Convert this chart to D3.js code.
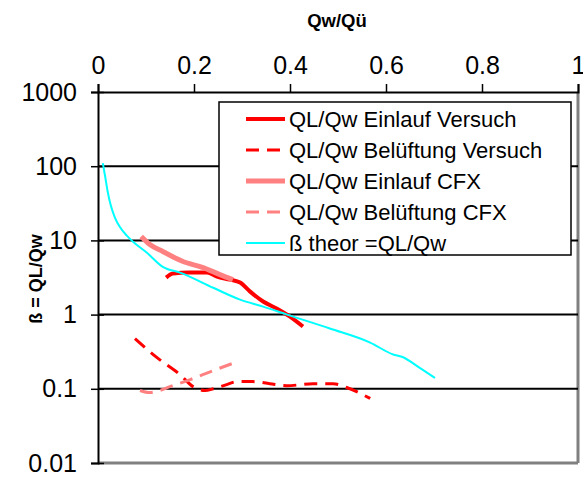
<!DOCTYPE html>
<html lang="de">
<head>
    <meta charset="UTF-8">
    <title>ß = QL/Qw</title>
    <script src="https://d3js.org/d3.v7.min.js"></script>
    <style>
        body { margin: 0; background: #fff; }
        svg { display: block; font-family: Arial, "Liberation Sans", Helvetica, sans-serif; }
    </style>
</head>
<body>
    <svg></svg>

    <script>
const width = 583, height = 477;
const font = 'Arial, "Liberation Sans", Helvetica, sans-serif';

// tick labels
const xTicks = [0, 0.2, 0.4, 0.6, 0.8, 1];
const yTicks = [0.01, 0.1, 1, 10, 100, 1000];

// series, [Qw/Qü, ß]
const einlaufVersuch = [[0.142, 3.15], [0.156, 3.57], [0.19, 3.68], [0.227, 3.68], [0.248, 3.25],
    [0.275, 2.96], [0.296, 2.7], [0.317, 2.04], [0.344, 1.5], [0.373, 1.2], [0.4, 0.94], [0.427, 0.69]];
const belueftungVersuch = [[0.077, 0.475], [0.123, 0.263], [0.171, 0.155], [0.198, 0.107], [0.223, 0.095],
    [0.24, 0.1], [0.268, 0.114], [0.29, 0.125], [0.323, 0.125], [0.358, 0.117], [0.393, 0.11],
    [0.448, 0.117], [0.49, 0.117], [0.518, 0.104], [0.567, 0.074]];
const einlaufCFX = [[0.09, 11.3], [0.108, 8.8], [0.135, 7.1], [0.177, 5.2], [0.219, 4.3], [0.254, 3.46], [0.281, 2.96]];
const belueftungCFX = [[0.0875, 0.095], [0.108, 0.089], [0.129, 0.095], [0.15, 0.107], [0.192, 0.133], [0.24, 0.176], [0.279, 0.218]];
const betaTheor = [[0.01, 110], [0.015, 72], [0.02, 46], [0.027, 29], [0.035, 20.5], [0.046, 15], [0.06, 11.6],
    [0.073, 9.6], [0.102, 6.8], [0.135, 4.4], [0.171, 3.68], [0.24, 2.3], [0.296, 1.59], [0.344, 1.28],
    [0.394, 1.0], [0.483, 0.65], [0.567, 0.42], [0.615, 0.29], [0.633, 0.27], [0.671, 0.19], [0.702, 0.14]];

const series = [
    { name: "QL/Qw Einlauf Versuch", data: einlaufVersuch, color: "#ff0000", w: 4, dash: null },
    { name: "QL/Qw Belüftung Versuch", data: belueftungVersuch, color: "#ff0000", w: 3, dash: "13,8" },
    { name: "QL/Qw Einlauf CFX", data: einlaufCFX, color: "#ff8080", w: 5, dash: null },
    { name: "QL/Qw Belüftung CFX", data: belueftungCFX, color: "#ff8080", w: 3, dash: "13,8" },
    { name: "ß theor =QL/Qw", data: betaTheor, color: "#00ffff", w: 2, dash: null }
];

const m = { left: 98, right: 578, top: 92, bottom: 463 };

const svg = d3.select("svg")
    .attr("width", width)
    .attr("height", height);

const x = d3.scaleLinear().domain([0, 1]).range([m.left, m.right]);
const y = d3.scaleLog().domain([0.01, 1000]).range([m.bottom, m.top]);

// plot border (grey right / bottom)
svg.append("line").attr("x1", m.right).attr("x2", m.right).attr("y1", m.top).attr("y2", m.bottom)
    .attr("stroke", "#808080").attr("stroke-width", 3);
svg.append("line").attr("x1", m.left).attr("x2", m.right).attr("y1", m.bottom).attr("y2", m.bottom)
    .attr("stroke", "#808080").attr("stroke-width", 3);

// gridlines
svg.append("g")
    .selectAll("line")
    .data(yTicks.filter(d => d > 0.01 && d < 1000))
    .join("line")
    .attr("x1", m.left).attr("x2", m.right)
    .attr("y1", d => y(d)).attr("y2", d => y(d))
    .attr("stroke", "#000").attr("stroke-width", 2);

// axes
const xAxis = svg.append("g")
    .attr("transform", `translate(0,${m.top})`)
    .call(d3.axisTop(x).tickValues(xTicks).tickFormat(d => String(d)).tickSize(8).tickPadding(10));
const yAxis = svg.append("g")
    .attr("transform", `translate(${m.left},0)`)
    .call(d3.axisLeft(y).tickValues(yTicks).tickFormat(d => String(d)).tickSize(7).tickPadding(14));

[xAxis, yAxis].forEach(g => {
    g.attr("font-family", null);
    g.select(".domain").attr("stroke", "#000").attr("stroke-width", 2);
    g.selectAll(".tick line").attr("stroke", "#000").attr("stroke-width", 1.5);
    g.selectAll(".tick text").attr("fill", "#000")
        .style("font-family", font).style("font-size", "25px");
});
yAxis.selectAll(".tick line").attr("x2", 6).attr("x1", -7);
xAxis.selectAll(".tick line").attr("y2", -8).attr("y1", 0);

// axis titles
svg.append("text")
    .attr("x", 337).attr("y", 27)
    .attr("text-anchor", "middle")
    .style("font-family", font)
    .style("font-weight", "bold").style("font-size", "18.5px")
    .text("Qw/Qü");
svg.append("text")
    .attr("transform", "translate(42,279) rotate(-90)")
    .attr("text-anchor", "middle")
    .style("font-family", font)
    .style("font-weight", "bold").style("font-size", "18px")
    .text("ß = QL/Qw");

// lines
const line = d3.line().x(d => x(d[0])).y(d => y(d[1])).curve(d3.curveMonotoneX);

svg.append("g")
    .selectAll("path")
    .data(series)
    .join("path")
    .attr("d", d => line(d.data))
    .attr("fill", "none")
    .attr("stroke", d => d.color)
    .attr("stroke-width", d => d.w)
    .attr("stroke-dasharray", d => d.dash)
    .attr("stroke-linejoin", "round");

// legend
const legend = svg.append("g");
legend.append("rect")
    .attr("x", 219).attr("y", 102).attr("width", 352).attr("height", 153)
    .attr("fill", "#fff").attr("stroke", "#000").attr("stroke-width", 1.5);

const rowY = [119, 150, 181, 212, 243];
const rows = legend.selectAll("g.row")
    .data(series)
    .join("g")
    .attr("class", "row")
    .attr("transform", (d, i) => `translate(0,${rowY[i]})`);
rows.append("line")
    .attr("x1", 246).attr("x2", 285)
    .attr("stroke", d => d.color)
    .attr("stroke-width", d => d.w)
    .attr("stroke-dasharray", d => d.dash);
rows.append("text")
    .attr("x", 289).attr("dy", "0.35em")
    .style("font-family", font)
    .style("font-size", "22px")
    .text(d => d.name);
    </script>
</body>
</html>
